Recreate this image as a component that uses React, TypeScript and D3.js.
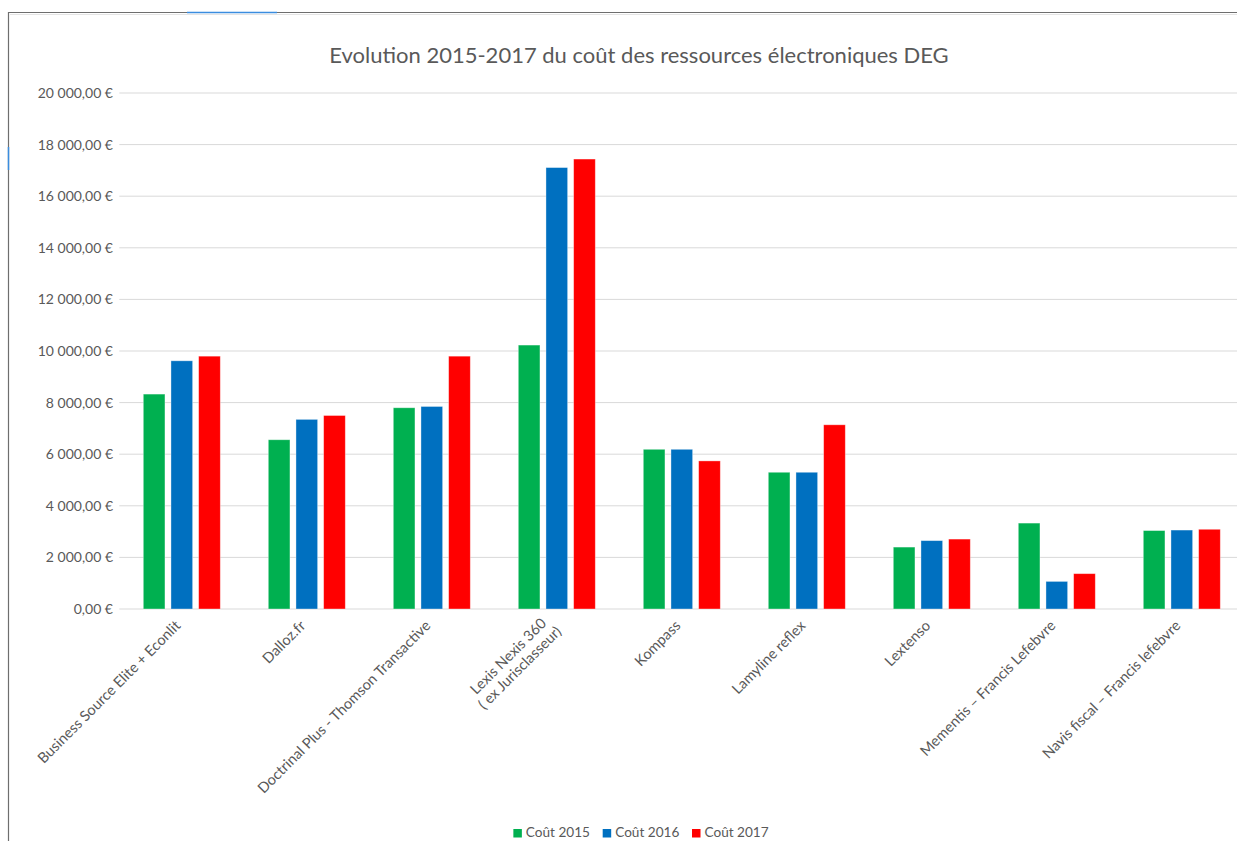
import React, { useEffect, useRef } from "react";
import * as d3 from "d3";

const title = "Evolution 2015-2017 du coût des ressources électroniques DEG";
const categories = [
  "Business Source Elite + Econlit",
  "Dalloz.fr",
  "Doctrinal Plus -  Thomson Transactive",
  "Lexis Nexis 360\n( ex Jurisclasseur)",
  "Kompass",
  "Lamyline reflex",
  "Lextenso",
  "Mementis – Francis Lefebvre",
  "Navis fiscal – Francis lefebvre",
];
const seriesNames = ["Coût 2015", "Coût 2016", "Coût 2017"];
const cost2015 = [8330, 6560, 7800, 10230, 6190, 5300, 2400, 3330, 3040];
const cost2016 = [9620, 7350, 7850, 17110, 6190, 5300, 2650, 1070, 3060];
const cost2017 = [9800, 7500, 9800, 17440, 5740, 7140, 2710, 1370, 3090];
const seriesColors = ["#00B050", "#0070C0", "#FF0000"];
const yTicks = [0, 2000, 4000, 6000, 8000, 10000, 12000, 14000, 16000, 18000, 20000];

const W = 1237;
const H = 841;
const FONT = "Lato, 'Open Sans', sans-serif";
const TXT = "#595959";

export default function App() {
  const ref = useRef<SVGSVGElement>(null);

  useEffect(() => {
    const svg = d3.select(ref.current);
    svg.selectAll("*").remove();

    const seriesValues = [cost2015, cost2016, cost2017];
    const left = 119.3;
    const right = 1244.3;
    const top = 93;
    const bottom = 609;

    svg.append("rect").attr("width", W).attr("height", H).attr("fill", "#fff");

    // frame
    svg.append("line").attr("x1", 8).attr("x2", W).attr("y1", 12.5).attr("y2", 12.5)
      .attr("stroke", "#6e6e6e").attr("stroke-width", 1.2);
    svg.append("line").attr("x1", 10).attr("x2", W).attr("y1", 14.5).attr("y2", 14.5)
      .attr("stroke", "#e4e4e4").attr("stroke-width", 1);
    svg.append("line").attr("x1", 8.5).attr("x2", 8.5).attr("y1", 12).attr("y2", H)
      .attr("stroke", "#6e6e6e").attr("stroke-width", 1.2);
    svg.append("line").attr("x1", 187).attr("x2", 277).attr("y1", 12.5).attr("y2", 12.5)
      .attr("stroke", "#3a8ddf").attr("stroke-width", 1.5);
    svg.append("line").attr("x1", 8.5).attr("x2", 8.5).attr("y1", 147).attr("y2", 170)
      .attr("stroke", "#3a8ddf").attr("stroke-width", 1.5);

    const x0 = d3.scaleBand<string>().domain(categories).range([left, right]).paddingInner(0).paddingOuter(0);
    const x1 = d3.scaleBand<string>().domain(seriesNames).range([24, 101]).paddingInner(0.217);
    const y = d3.scaleLinear().domain([0, 20000]).range([bottom, top]);

    const fmt = (v: number) =>
      d3.format(",.2f")(v).replace(/,/g, " ").replace(".", ",") + " €";

    // gridlines
    svg.append("g").selectAll("line").data(yTicks).join("line")
      .attr("x1", left).attr("x2", right)
      .attr("y1", (d) => y(d)).attr("y2", (d) => y(d))
      .attr("stroke", "#d9d9d9").attr("stroke-width", 1);

    // y labels
    svg.append("g").selectAll("text").data(yTicks).join("text")
      .attr("x", 113).attr("y", (d) => y(d)).attr("dy", "0.35em")
      .attr("text-anchor", "end").attr("font-family", FONT).attr("font-size", 14)
      .attr("fill", TXT).text((d) => fmt(d));

    // bars
    seriesNames.forEach((s, si) => {
      svg.append("g").selectAll("rect").data(categories).join("rect")
        .attr("x", (c) => (x0(c) as number) + (x1(s) as number))
        .attr("width", x1.bandwidth())
        .attr("y", (_c, i) => y(seriesValues[si][i]))
        .attr("height", (_c, i) => y(0) - y(seriesValues[si][i]))
        .attr("fill", seriesColors[si])
        .attr("stroke", "rgba(255,255,255,0.45)").attr("stroke-width", 0.8);
    });

    // x labels
    const lineH = 16.3;
    categories.forEach((c) => {
      const cx = (x0(c) as number) + x0.bandwidth() / 2;
      const g = svg.append("g").attr("transform", `translate(${cx - 4},623) rotate(-45)`);
      const lines = c.split("\n");
      const texts = lines.map((ln, i) =>
        g.append("text").attr("text-anchor", "end").attr("dy", "0.35em")
          .attr("y", (i - (lines.length - 1) / 2) * lineH)
          .attr("font-family", FONT).attr("font-size", 14.6).attr("fill", TXT).text(ln)
      );
      const widths = texts.map((t) => (t.node() as SVGTextElement).getComputedTextLength());
      const maxW = Math.max(...widths);
      texts.forEach((t, i) => t.attr("x", -(maxW - widths[i]) / 2));
    });

    // title
    svg.append("text").attr("x", 639).attr("y", 63).attr("text-anchor", "middle")
      .attr("font-family", FONT).attr("font-size", 22).attr("fill", TXT).text(title);

    // legend
    const lg = svg.append("g");
    const sq = 8.5;
    const items = seriesNames.map((s, i) => {
      const g = lg.append("g");
      g.append("rect").attr("width", sq).attr("height", sq).attr("y", 829).attr("fill", seriesColors[i]);
      const t = g.append("text").attr("x", sq + 4).attr("y", 837).attr("font-family", FONT)
        .attr("font-size", 13.6).attr("fill", TXT).text(s);
      const w = (t.node() as SVGTextElement).getComputedTextLength();
      return { g, w: sq + 4 + w };
    });
    const gap = 12.7;
    const total = items.reduce((a, b) => a + b.w, 0) + gap * (items.length - 1);
    let cur = 641 - total / 2;
    items.forEach((it) => {
      it.g.attr("transform", `translate(${cur},0)`);
      cur += it.w + gap;
    });
  }, []);

  return (
    <svg
      ref={ref}
      width={W}
      height={H}
      style={{ position: "absolute", left: 0, top: 0, display: "block" }}
    />
  );
}
